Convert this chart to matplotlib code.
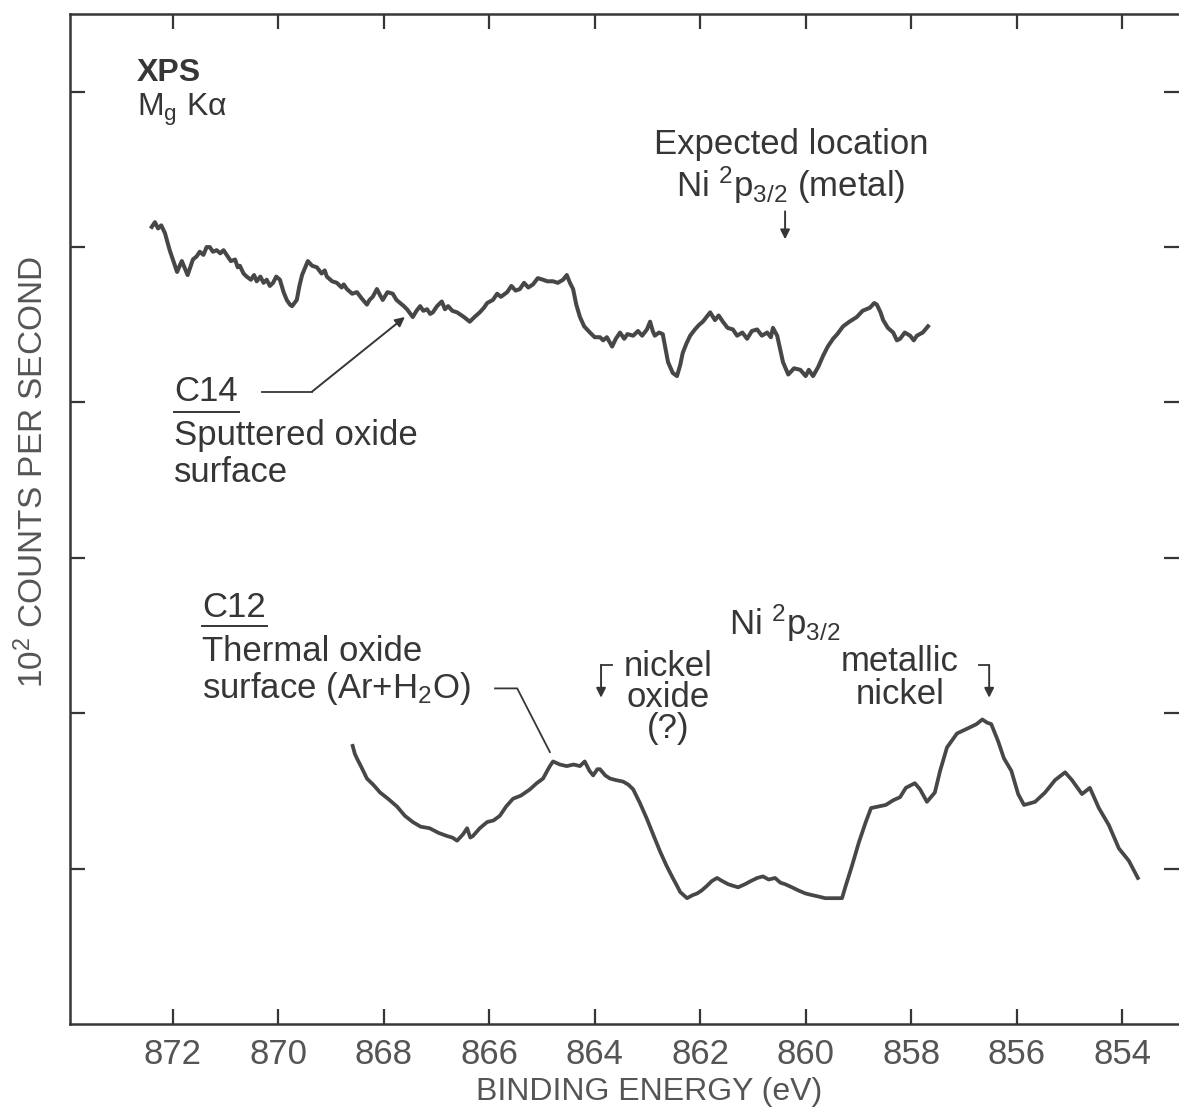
import matplotlib.pyplot as plt

plt.rcParams['font.family'] = ['Liberation Sans', 'DejaVu Sans']
plt.rcParams['mathtext.default'] = 'regular'

# C14 - sputtered oxide surface
c14_ev = [872.40, 872.34, 872.28, 872.22, 872.15, 872.06, 871.98, 871.92, 871.87, 871.83,
          871.77, 871.72, 871.66, 871.62, 871.55, 871.49, 871.42, 871.36, 871.30, 871.24,
          871.17, 871.10, 871.04, 870.98, 870.90, 870.82, 870.77, 870.73, 870.66, 870.60,
          870.52, 870.46, 870.41, 870.34, 870.28, 870.22, 870.16, 870.10, 870.04, 869.97,
          869.90, 869.84, 869.78, 869.74, 869.65, 869.60, 869.55, 869.49, 869.44, 869.36,
          869.27, 869.18, 869.12, 869.08, 868.98, 868.89, 868.80, 868.76, 868.70, 868.60,
          868.51, 868.42, 868.32, 868.27, 868.21, 868.13, 868.07, 868.02, 867.93, 867.83,
          867.76, 867.69, 867.62, 867.56, 867.45, 867.38, 867.31, 867.25, 867.18, 867.12,
          867.07, 866.99, 866.90, 866.84, 866.78, 866.70, 866.61, 866.48, 866.37, 866.28,
          866.18, 866.10, 866.04, 865.93, 865.85, 865.78, 865.66, 865.58, 865.50, 865.42,
          865.34, 865.26, 865.17, 865.08, 864.98, 864.90, 864.79, 864.70, 864.60, 864.53,
          864.47, 864.41, 864.35, 864.28, 864.20, 864.09, 864.00, 863.90, 863.84, 863.77,
          863.67, 863.60, 863.52, 863.44, 863.38, 863.27, 863.18, 863.10, 863.01, 862.95,
          862.90, 862.86, 862.78, 862.71, 862.61, 862.52, 862.44, 862.38, 862.33, 862.26,
          862.19, 862.10, 862.02, 861.95, 861.88, 861.81, 861.72, 861.65, 861.57, 861.48,
          861.38, 861.30, 861.20, 861.11, 861.02, 860.92, 860.83, 860.73, 860.66, 860.62,
          860.54, 860.43, 860.33, 860.22, 860.10, 860.00, 859.94, 859.86, 859.76, 859.67,
          859.58, 859.48, 859.40, 859.29, 859.17, 859.03, 858.92, 858.78, 858.70, 858.65,
          858.58, 858.53, 858.44, 858.34, 858.27, 858.21, 858.12, 858.02, 857.95, 857.89,
          857.78, 857.68]
c14_cps = [5.13, 5.16, 5.12, 5.14, 5.09, 4.98, 4.90, 4.84, 4.88, 4.91,
           4.86, 4.82, 4.88, 4.92, 4.94, 4.97, 4.95, 5.00, 5.00, 4.97,
           4.98, 4.96, 4.98, 4.95, 4.91, 4.92, 4.87, 4.88, 4.83, 4.81,
           4.79, 4.82, 4.78, 4.81, 4.77, 4.79, 4.75, 4.77, 4.81, 4.79,
           4.71, 4.66, 4.63, 4.62, 4.66, 4.75, 4.82, 4.87, 4.91, 4.88,
           4.87, 4.83, 4.85, 4.81, 4.78, 4.77, 4.74, 4.76, 4.73, 4.70,
           4.71, 4.67, 4.63, 4.66, 4.68, 4.73, 4.69, 4.66, 4.71, 4.70,
           4.66, 4.64, 4.62, 4.60, 4.55, 4.59, 4.62, 4.59, 4.60, 4.57,
           4.58, 4.62, 4.65, 4.60, 4.62, 4.59, 4.58, 4.55, 4.52, 4.55,
           4.58, 4.61, 4.64, 4.66, 4.70, 4.68, 4.71, 4.75, 4.72, 4.73,
           4.77, 4.74, 4.76, 4.80, 4.79, 4.78, 4.78, 4.77, 4.79, 4.82,
           4.77, 4.73, 4.63, 4.55, 4.49, 4.45, 4.42, 4.42, 4.40, 4.42,
           4.36, 4.41, 4.45, 4.41, 4.44, 4.43, 4.46, 4.43, 4.47, 4.52,
           4.46, 4.43, 4.45, 4.44, 4.26, 4.19, 4.17, 4.24, 4.32, 4.38,
           4.43, 4.47, 4.50, 4.52, 4.55, 4.58, 4.53, 4.56, 4.52, 4.48,
           4.47, 4.43, 4.45, 4.41, 4.46, 4.47, 4.43, 4.45, 4.42, 4.48,
           4.43, 4.26, 4.18, 4.22, 4.21, 4.17, 4.21, 4.17, 4.23, 4.30,
           4.36, 4.41, 4.44, 4.49, 4.52, 4.55, 4.59, 4.61, 4.64, 4.63,
           4.58, 4.53, 4.48, 4.45, 4.40, 4.41, 4.45, 4.43, 4.40, 4.43,
           4.45, 4.49]

# C12 - thermal oxide surface (Ar + H2O)
c12_ev = [868.59, 868.55, 868.51, 868.42, 868.32, 868.20, 868.07, 867.92, 867.75, 867.60,
          867.45, 867.30, 867.13, 866.96, 866.80, 866.70, 866.61, 866.50, 866.42, 866.36,
          866.31, 866.18, 866.04, 865.92, 865.80, 865.68, 865.55, 865.40, 865.23, 865.10,
          864.98, 864.90, 864.85, 864.79, 864.66, 864.53, 864.40, 864.28, 864.19, 864.10,
          864.03, 863.95, 863.90, 863.80, 863.71, 863.60, 863.46, 863.36, 863.27, 863.14,
          863.01, 862.88, 862.76, 862.64, 862.52, 862.44, 862.38, 862.25, 862.14, 862.06,
          861.97, 861.87, 861.78, 861.68, 861.58, 861.47, 861.38, 861.28, 861.15, 861.04,
          860.92, 860.81, 860.70, 860.58, 860.48, 860.39, 860.26, 860.14, 860.00, 859.88,
          859.75, 859.63, 859.45, 859.31, 859.24, 859.12, 858.99, 858.86, 858.76, 858.62,
          858.48, 858.34, 858.21, 858.10, 857.93, 857.83, 857.70, 857.55, 857.45, 857.32,
          857.13, 856.88, 856.76, 856.65, 856.56, 856.48, 856.35, 856.24, 856.10, 855.97,
          855.86, 855.75, 855.65, 855.46, 855.27, 855.08, 854.95, 854.76, 854.61, 854.44,
          854.25, 854.06, 853.87, 853.70]
c12_cps = [1.79, 1.74, 1.71, 1.65, 1.58, 1.54, 1.49, 1.45, 1.40, 1.34,
           1.30, 1.27, 1.26, 1.23, 1.21, 1.20, 1.18, 1.22, 1.26, 1.20,
           1.21, 1.26, 1.30, 1.31, 1.34, 1.40, 1.45, 1.47, 1.51, 1.55,
           1.58, 1.63, 1.66, 1.69, 1.67, 1.66, 1.67, 1.66, 1.69, 1.63,
           1.60, 1.64, 1.64, 1.60, 1.58, 1.57, 1.56, 1.54, 1.51, 1.42,
           1.32, 1.21, 1.11, 1.02, 0.94, 0.89, 0.85, 0.81, 0.83, 0.84,
           0.86, 0.89, 0.92, 0.94, 0.92, 0.90, 0.89, 0.88, 0.90, 0.92,
           0.94, 0.95, 0.93, 0.94, 0.91, 0.90, 0.88, 0.86, 0.84, 0.83,
           0.82, 0.81, 0.81, 0.81, 0.89, 1.02, 1.17, 1.30, 1.39, 1.40,
           1.41, 1.44, 1.46, 1.52, 1.55, 1.51, 1.43, 1.49, 1.63, 1.78,
           1.87, 1.91, 1.93, 1.96, 1.94, 1.93, 1.82, 1.71, 1.63, 1.48,
           1.41, 1.42, 1.43, 1.49, 1.57, 1.62, 1.57, 1.48, 1.52, 1.39,
           1.28, 1.13, 1.05, 0.94]

ev_ticks = [872, 870, 868, 866, 864, 862, 860, 858, 856, 854]
ev_labels = ['872', '870', '868', '866', '864', '862', '860', '858', '856', '854']
cps_ticks = [1, 2, 3, 4, 5, 6]

ink = '#363636'
trace = '#474747'

fig = plt.figure(figsize=(11.79, 11.12), dpi=100)
ax = fig.add_axes([0.0594, 0.0791, 0.9406, 0.9083])

ax.plot(c14_ev, c14_cps, color=trace, lw=2.9, solid_joinstyle='round')
ax.plot(c12_ev, c12_cps, color=trace, lw=2.7, solid_joinstyle='round')

ax.set_xlim(873.95, 852.92)
ax.set_ylim(0, 6.5)
ax.set_xticks(ev_ticks)
ax.set_xticklabels(ev_labels)
ax.set_yticks(cps_ticks)
ax.set_yticklabels([])
ax.tick_params(direction='in', length=11, width=1.6, color=ink,
               top=True, right=True, labelsize=25, labelcolor='#555555', pad=10)
for side in ['left', 'top', 'bottom']:
    ax.spines[side].set_linewidth(1.8)
    ax.spines[side].set_color(ink)
ax.spines['right'].set_visible(False)

fig.text(649 / 1179, 1 - 1092 / 1112, 'BINDING ENERGY (eV)', ha='center', va='center',
         fontsize=23, color='#555555')
fig.text(33 / 1179, 1 - 472 / 1112, '10$^2$ COUNTS PER SECOND', ha='center', va='center',
         rotation=90, fontsize=24, color='#555555')

fs = 25
arrow = dict(arrowstyle='-|>', color=ink, lw=1.4, mutation_scale=14, shrinkA=0, shrinkB=0)

ax.text(872.68, 6.12, 'XPS', fontsize=23, fontweight='bold', color=ink, va='center')
ax.text(872.68, 5.88, 'M$_g$ Kα', fontsize=23, color=ink, va='center')

# expected metal position on the C14 trace
ax.text(860.28, 5.66, 'Expected location', fontsize=fs, color=ink, ha='center', va='center')
ax.text(860.28, 5.40, 'Ni $^2$p$_{3/2}$ (metal)', fontsize=fs, color=ink, ha='center', va='center')
ax.annotate('', xy=(860.39, 5.05), xytext=(860.39, 5.23), arrowprops=arrow)

# C14 label and leader
ax.text(871.98, 4.07, 'C14', fontsize=fs, color=ink, va='center')
ax.plot([871.98, 870.75], [3.94, 3.94], color=ink, lw=1.4)
ax.text(871.98, 3.79, 'Sputtered oxide', fontsize=fs, color=ink, va='center')
ax.text(871.98, 3.55, 'surface', fontsize=fs, color=ink, va='center')
ax.plot([870.31, 869.36], [4.07, 4.07], color=ink, lw=1.3)
ax.annotate('', xy=(867.60, 4.55), xytext=(869.36, 4.07), arrowprops=arrow)

# C12 label and leader
ax.text(871.45, 2.68, 'C12', fontsize=fs, color=ink, va='center')
ax.plot([871.45, 870.22], [2.56, 2.56], color=ink, lw=1.4)
ax.text(871.45, 2.40, 'Thermal oxide', fontsize=fs, color=ink, va='center')
ax.text(871.45, 2.16, 'surface (Ar+H$_2$O)', fontsize=fs, color=ink, va='center')
ax.plot([865.89, 865.47, 864.85], [2.16, 2.16, 1.75], color=ink, lw=1.3)

# peak markers on the C12 trace
ax.text(861.45, 2.58, 'Ni $^2$p$_{3/2}$', fontsize=fs, color=ink, va='center')
for i, word in enumerate(['nickel', 'oxide', '(?)']):
    ax.text(862.61, 2.30 - 0.20 * i, word, fontsize=fs, color=ink, ha='center', va='center')
ax.plot([863.67, 863.88], [2.31, 2.31], color=ink, lw=1.3)
ax.annotate('', xy=(863.88, 2.10), xytext=(863.88, 2.31), arrowprops=arrow)

for i, word in enumerate(['metallic', 'nickel']):
    ax.text(858.21, 2.33 - 0.21 * i, word, fontsize=fs, color=ink, ha='center', va='center')
ax.plot([856.71, 856.52], [2.31, 2.31], color=ink, lw=1.3)
ax.annotate('', xy=(856.52, 2.10), xytext=(856.52, 2.31), arrowprops=arrow)

fig.savefig('out.png', dpi=100, facecolor='white')
